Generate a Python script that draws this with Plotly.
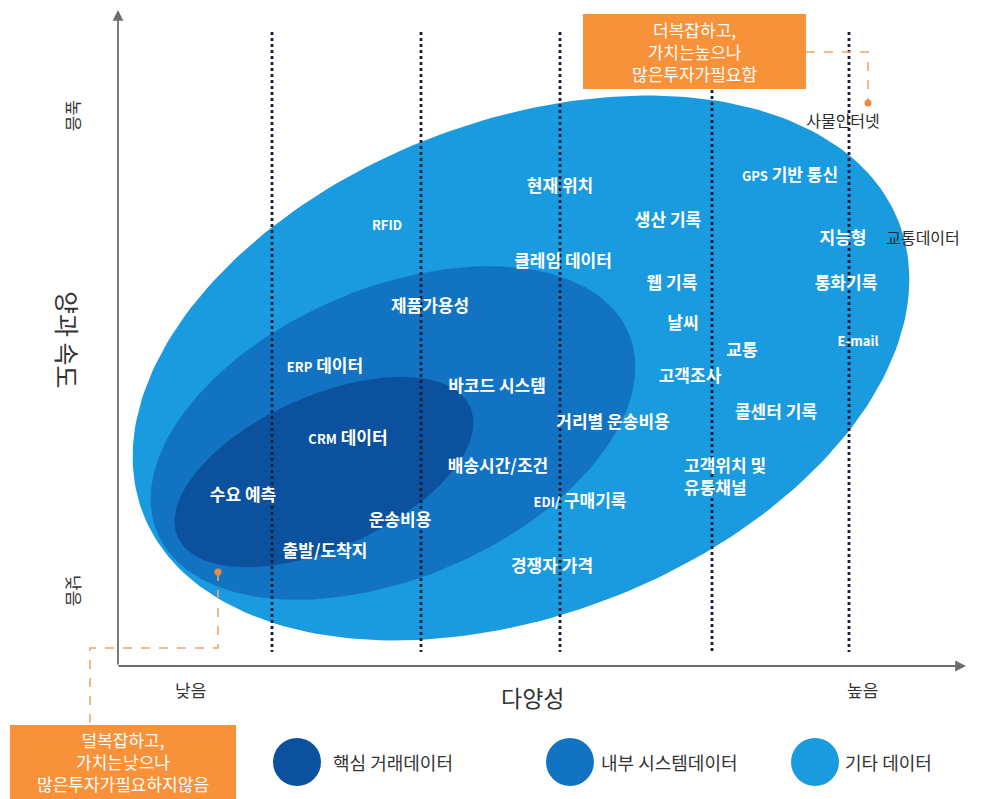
import numpy as np
import plotly.graph_objects as go

FONT = "Noto Sans CJK KR"

# Data groups: nested ellipses (centre x, centre y, semi-major, semi-minor, tilt in degrees)
groups = ["기타 데이터", "내부 시스템데이터", "핵심 거래데이터"]
group_colors = ["#1A9ADF", "#1273C3", "#0B519E"]
group_cx = [521, 393, 324]
group_cy = [368, 433, 472]
group_a = [405, 256, 160]
group_b = [247, 145, 76]
group_tilt = [21, 23, 24]


def small(s):
    return '<span style="font-size:13px">' + s + "</span>"


# Data items placed inside the diagram
item_text = [small("RFID"), "현재 위치", "생산 기록", small("GPS") + " 기반 통신", "지능형",
             "클레임 데이터", "웹 기록", "통화기록", "제품가용성", "날씨", small("E-mail"),
             "교통", small("ERP") + " 데이터", "고객조사", "바코드 시스템", "콜센터 기록",
             "거리별 운송비용", small("CRM") + " 데이터", "고객위치 및<br>유통채널",
             "배송시간/조건", small("EDI/") + " 구매기록", "수요 예측", "운송비용",
             "출발/도착지", "경쟁자 가격"]
item_x = [387, 560, 668, 790, 843, 563, 672, 846, 430, 683, 858, 742, 325,
          690, 497, 776, 613, 348, 684, 498, 580, 243, 400, 325, 552]
item_y = [226, 188, 222, 177, 240, 263, 285, 285, 308, 325, 342, 352, 368,
          378, 388, 414, 424, 440, 479, 468, 503, 497, 522, 553, 568]
item_pos = ["middle center"] * len(item_text)
item_pos[18] = "middle right"

# Items outside the ellipses (dark text)
outer_text = ["교통데이터", "사물인터넷"]
outer_x = [923, 843]
outer_y = [240, 123]

# Dividing lines along the diversity axis
divider_x = [272, 421, 560, 712, 849]
divider_top = [32, 32, 32, 90, 32]
divider_bottom = 652

# Axis labels
x_ticks = ["낮음", "높음"]
x_tick_pos = [190, 862]
y_ticks = ["높음", "낮음"]
y_tick_pos = [115, 590]

# Callouts
callout_text = ["더복잡하고,<br>가치는높으나<br>많은투자가필요함",
                "덜복잡하고,<br>가치는낮으나<br>많은투자가필요하지않음"]
callout_box = [(583, 14, 806, 89), (10, 725, 236, 805)]
callout_text_y = [51, 761]
callout_path_x = [[806, 868, 868], [218, 218, 90, 90]]
callout_path_y = [[52, 52, 103], [572, 648, 648, 725]]

# Legend
legend_x = [297, 570, 815]
legend_y = 762
legend_text_x = [331, 599, 843]

fig = go.Figure()

# Nested ellipses
t = np.linspace(0, 2 * np.pi, 241)
for name, col, cx, cy, a, b, ang in zip(groups, group_colors, group_cx, group_cy,
                                        group_a, group_b, group_tilt):
    th = np.deg2rad(ang)
    ex = cx + a * np.cos(t) * np.cos(th) - b * np.sin(t) * np.sin(th)
    ey = cy - (a * np.cos(t) * np.sin(th) + b * np.sin(t) * np.cos(th))
    fig.add_trace(go.Scatter(x=ex, y=ey, mode="lines", fill="toself", fillcolor=col,
                             line=dict(width=0, color=col), name=name,
                             hoverinfo="skip", showlegend=False))

# Dotted dividers
for dx, top in zip(divider_x, divider_top):
    fig.add_trace(go.Scatter(x=[dx, dx], y=[top, divider_bottom], mode="lines",
                             line=dict(color="#14213A", width=2.8, dash="dot"),
                             hoverinfo="skip", showlegend=False))

# Callout connectors
for px, py in zip(callout_path_x, callout_path_y):
    fig.add_trace(go.Scatter(x=px, y=py, mode="lines",
                             line=dict(color="#F2A46A", width=1.6, dash="dash"),
                             hoverinfo="skip", showlegend=False))
fig.add_trace(go.Scatter(x=[callout_path_x[0][-1], callout_path_x[1][0]],
                         y=[callout_path_y[0][-1], callout_path_y[1][0]],
                         mode="markers", marker=dict(color="#EE8A3C", size=7),
                         hoverinfo="skip", showlegend=False))

# Item labels
fig.add_trace(go.Scatter(x=item_x, y=item_y, mode="text", text=item_text,
                         textposition=item_pos,
                         textfont=dict(family=FONT, size=17, color="white",
                                       weight="bold"),
                         hoverinfo="skip", showlegend=False))

fig.add_trace(go.Scatter(x=outer_x, y=outer_y, mode="text", text=outer_text,
                         textfont=dict(family=FONT, size=16, color="#2B2B2B"),
                         hoverinfo="skip", showlegend=False))

# Legend markers
fig.add_trace(go.Scatter(x=legend_x, y=[legend_y] * 3, mode="markers",
                         marker=dict(color=group_colors[::-1], size=48,
                                     line=dict(width=0)),
                         hoverinfo="skip", showlegend=False))
for lx, txt in zip(legend_text_x, groups[::-1]):
    fig.add_annotation(x=lx, y=legend_y, text=txt, showarrow=False, xanchor="left",
                       font=dict(family=FONT, size=18, color="#333333"))

# Axes with arrowheads
fig.add_annotation(x=118, y=10, ax=118, ay=666, xref="x", yref="y", axref="x", ayref="y",
                   showarrow=True, arrowhead=2, arrowsize=1.2, arrowwidth=1.8,
                   arrowcolor="#6E6E6E", text="")
fig.add_annotation(x=966, y=666, ax=117, ay=666, xref="x", yref="y", axref="x", ayref="y",
                   showarrow=True, arrowhead=2, arrowsize=1.2, arrowwidth=1.8,
                   arrowcolor="#6E6E6E", text="")

for txt, xp in zip(x_ticks, x_tick_pos):
    fig.add_annotation(x=xp, y=689, text=txt, showarrow=False,
                       font=dict(family=FONT, size=17, color="#333333"))
for txt, yp in zip(y_ticks, y_tick_pos):
    fig.add_annotation(x=75, y=yp, text=txt, showarrow=False, textangle=90,
                       font=dict(family=FONT, size=17, color="#333333"))
fig.add_annotation(x=532, y=697, text="다양성", showarrow=False,
                   font=dict(family=FONT, size=23, color="#333333"))
fig.add_annotation(x=68, y=340, text="양과 속도", showarrow=False, textangle=90,
                   font=dict(family=FONT, size=25, color="#333333"))

# Callout boxes
for (x0, y0, x1, y1), ty, txt in zip(callout_box, callout_text_y, callout_text):
    fig.add_shape(type="rect", x0=x0, y0=y0, x1=x1, y1=y1, xref="x", yref="y",
                  fillcolor="#F7913A", line=dict(width=0), layer="above")
    fig.add_annotation(x=(x0 + x1) / 2, y=ty, text=txt, showarrow=False,
                       font=dict(family=FONT, size=17, color="white"))

fig.update_layout(
    width=994, height=799,
    margin=dict(l=0, r=0, t=0, b=0),
    paper_bgcolor="white", plot_bgcolor="white",
    xaxis=dict(range=[0, 994], visible=False, fixedrange=True),
    yaxis=dict(range=[799, 0], visible=False, fixedrange=True),
    showlegend=False,
)

fig.write_html("out.html")
